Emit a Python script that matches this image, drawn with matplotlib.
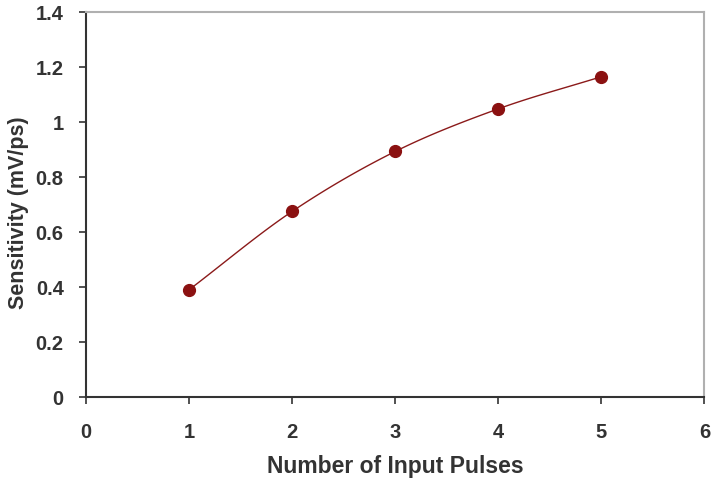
import numpy as np
import matplotlib.pyplot as plt

plt.rcParams['font.family'] = ['Liberation Sans', 'DejaVu Sans']

pulses = [1, 2, 3, 4, 5]
sensitivity = [0.39, 0.675, 0.893, 1.048, 1.165]


def smooth(x, y, n=30):
    # Catmull-Rom curve through the points, like Excel's smoothed line
    x = np.asarray(x, float)
    y = np.asarray(y, float)
    px = np.concatenate([[2 * x[0] - x[1]], x, [2 * x[-1] - x[-2]]])
    py = np.concatenate([[2 * y[0] - y[1]], y, [2 * y[-1] - y[-2]]])
    xs, ys = [], []
    t = np.linspace(0, 1, n)
    for i in range(1, len(px) - 2):
        for p, out in ((px, xs), (py, ys)):
            p0, p1, p2, p3 = p[i - 1], p[i], p[i + 1], p[i + 2]
            out.extend(0.5 * (2 * p1 + (-p0 + p2) * t
                              + (2 * p0 - 5 * p1 + 4 * p2 - p3) * t ** 2
                              + (-p0 + 3 * p1 - 3 * p2 + p3) * t ** 3))
    return xs, ys


fig = plt.figure(figsize=(7.2, 4.83), dpi=100)
ax = fig.add_axes([0.1194, 0.178, 0.859, 0.797])

sx, sy = smooth(pulses, sensitivity)
ax.plot(sx, sy, color="#8b1a1a", lw=1.0)
ax.plot(pulses, sensitivity, "o", color="#8b1111", ms=8.5, zorder=3)

ax.set_xlim(0, 6)
ax.set_ylim(0, 1.4)
ax.set_xticks(range(7))
ax.set_yticks(np.arange(0, 1.41, 0.2))
ax.set_yticklabels(["0", "0.2", "0.4", "0.6", "0.8", "1", "1.2", "1.4"])

for s in ("top", "right"):
    ax.spines[s].set_color("#b0b0b0")
    ax.spines[s].set_linewidth(1.5)
for s in ("left", "bottom"):
    ax.spines[s].set_color("#333333")
    ax.spines[s].set_linewidth(1.5)

ax.tick_params(direction="out", length=5, width=1.2, color="#333333",
               labelsize=14.5, labelcolor="#333333")
ax.tick_params(axis="x", pad=14)
ax.tick_params(axis="y", pad=11)
for lab in ax.get_xticklabels() + ax.get_yticklabels():
    lab.set_fontweight("bold")

ax.set_xlabel("Number of Input Pulses", fontsize=16.5, fontweight="bold",
              color="#333333", labelpad=9)
ax.set_ylabel("Sensitivity (mV/ps)", fontsize=15.5, fontweight="bold",
              color="#333333", labelpad=5)
ax.yaxis.label.set_y(0.48)

fig.savefig("out.png", dpi=100)
